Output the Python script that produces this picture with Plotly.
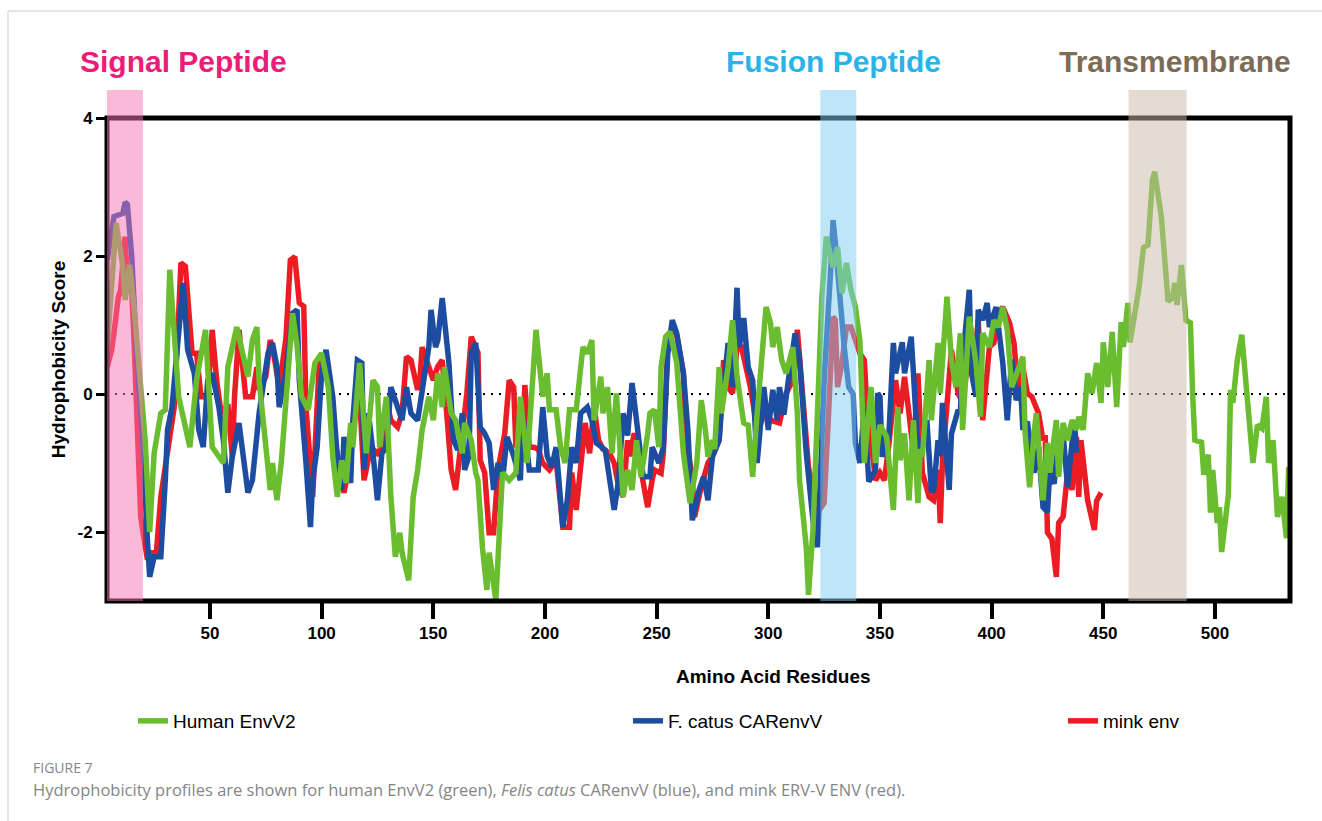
import plotly.graph_objects as go

# ---------------- data ----------------
human_x = [4, 8, 11, 12, 14, 16, 19, 21, 23, 25, 28, 30, 32, 36, 41, 44, 48, 51, 56, 58, 62, 67, 69, 71, 72, 77, 78, 80, 82, 87,
           89, 91, 94, 97, 100, 103, 105, 107, 109, 111, 113, 114, 117, 120, 123, 125, 126, 129, 131, 133, 135, 136, 139, 141,
           143, 145, 148, 150, 152, 154, 155, 158, 160, 163, 164, 167, 169, 170, 172, 174, 175, 178, 181, 184, 187, 189, 192,
           196, 199, 201, 202, 205, 207, 209, 211, 214, 217, 219, 221, 222, 225, 226, 228, 230, 232, 235, 237, 239, 241, 243,
           246, 247, 249, 251, 252, 254, 256, 259, 262, 264, 265, 268, 270, 272, 273, 275, 276, 278, 279, 282, 284, 286, 289,
           291, 293, 295, 299, 301, 302, 304, 306, 308, 311, 313, 314, 317, 318, 320, 322, 324, 326, 329, 331, 333, 335, 337,
           339, 341, 343, 346, 348, 350, 353, 356, 358, 359, 361, 363, 365, 367, 368, 369, 372, 373, 376, 377, 380, 382, 384,
           386, 387, 390, 393, 395, 396, 399, 401, 403, 405, 407, 409, 412, 414, 415, 417, 419, 420, 423, 425, 426, 429, 430,
           432, 434, 436, 438, 439, 441, 442, 443, 445, 447, 449, 450, 452, 454, 456, 458, 459, 461, 462, 465, 466, 468, 470,
           472, 473, 476, 477, 479, 481, 482, 483, 485, 487, 489, 490, 491, 494, 495, 497, 498, 499, 501, 502, 503, 506, 507,
           508, 510, 512, 514, 516, 517, 519, 521, 523, 524, 526, 528, 530, 532, 533]
human_y = [0.68, 2.48, 1.84, 1.36, 1.87, 1.26, 0.10, -0.67, -2.00, -0.86, -0.28, -0.23, 1.80, -0.04, -0.77, 0.20, 0.93, -0.77,
           -1.00, 0.39, 0.97, 0.25, 0.78, 0.97, 0.20, -1.39, -1.00, -1.54, -0.97, 1.17,
           0.70, -0.04, -0.23, 0.45, 0.59, 0.10, -0.91, -1.49, -0.96, -1.29, -0.42, -0.77, 0.45, -0.86, 0.20, 0.10, -0.77,
           -0.04, -1.49, -2.36, -2.01, -2.30, -2.70, -1.49,
           -1.10, -0.52, -0.04, -0.38, 0.30, -0.19, 0.39, -0.28, -0.38, -0.86, -0.42, -0.67, -1.14, -1.25, -2.22, -2.84,
           -2.30, -2.99, -1.14, -1.25, -1.14, -0.04, -1.00,
           0.93, -0.04, 0.30, -0.23, -0.23, -0.77, -1.00, -0.23, -0.23, 0.68, 0.59, 0.78, -0.38, 0.25, -0.28, 0.10, -0.86,
           0.01, -1.49, -1.10, -1.39, -0.67, -1.20,
           -0.57, -0.28, -0.23, -0.77, 0.39, 0.83, 0.90, 0.45, -0.86, -1.43, -1.58, -1.00, -0.09, -0.57, -0.91, -0.67, -0.80,
           0.39, -0.28, 0.39, 1.07, 0.25, -0.42,
           -0.45, -1.20, -0.28, 1.26, 1.03, 0.68, 0.97, 0.49, 0.30, 0.68, -0.28, -1.25, -2.22, -2.91, -1.97, -0.28, 1.41,
           2.28, 1.84, 2.13, 1.46, 1.90, 1.51,
           1.26, 0.78, -1.00, 0.10, -1.00, -0.45, -0.62, -1.68, -0.19, -0.96, -0.57, -1.54, -0.38, -1.58, -0.80, -0.91, 0.49,
           -0.38, 0.74, 0.01, 1.41, 0.49, 0.10,
           0.88, -0.52, 1.12, 0.45, -0.33, 0.88, 0.68, 1.07, 0.97, 1.26, 0.93, 0.10, 0.39, 0.54, -0.57, -1.35, -0.57, -0.28,
           -1.54, -0.71, -1.14, -0.38, -1.20,
           -0.42, -0.67, -0.38, -0.52, -0.33, -0.52, -0.10, 0.30, 0.01, 0.45, -0.13, 0.75, 0.10, 0.90, -0.19, 1.04, 0.68,
           1.32, 0.75, 1.32, 1.54, 2.12, 2.16, 3.10,
           3.22, 2.57, 2.16, 1.34, 1.40, 1.61, 1.29, 1.87, 1.07, 1.03, 0.01, -0.67, -0.70, -1.17, -0.88, -1.72, -1.10,
           -1.87, -1.64, -2.29, -1.46, 0.06, -0.13,
           0.49, 0.86, 0.06, -0.84, -1.00, -0.45, -0.50, -0.04, -1.00, -0.67, -1.78, -1.49, -2.09, -1.06, -0.91]

cat_x = [4, 7, 11, 12, 13, 15, 17, 20, 22, 23, 25, 28, 30, 31, 33, 36, 38, 40, 43, 45, 47, 49, 51, 54, 56, 58, 60, 63, 67, 69,
         72, 76, 78, 80, 81, 84, 87, 89, 90, 93, 95, 96, 98, 100, 102, 105, 107, 109, 110, 113, 114, 116, 118, 119, 121, 123,
         125, 127, 129, 131, 134, 136, 138, 140, 143, 145, 148, 149, 151, 152, 154, 157, 159, 161, 163, 164, 166, 167, 169,
         171, 173, 175, 177, 179, 181, 183, 186, 189, 190, 193, 197, 199, 201, 203, 205, 208, 210, 212, 214, 216, 218, 219,
         221, 223, 227, 231, 233, 235, 237, 239, 241, 244, 247, 248, 251, 253, 255, 257, 259, 262, 264, 265, 266, 269, 271,
         273, 275, 278, 279, 282, 284, 286, 287, 289, 291, 293, 295, 298, 300, 302, 304, 305, 307, 309, 312, 314, 317, 320,
         322, 323, 325, 328, 329, 330, 332, 334, 336, 338, 339, 341, 343, 345, 348, 349, 350, 351, 354, 356, 357, 360, 361,
         364, 365, 367, 369, 371, 373, 374, 376, 377, 378, 379, 381, 382, 385, 386, 387, 390, 391, 393, 394, 396, 398, 399,
         402, 405, 407, 409, 411, 413, 414, 416, 419, 421, 423, 425, 426, 428, 430, 432, 434, 437, 438]
cat_y = [1.94, 2.57, 2.62, 2.78, 2.75, 1.99, 0.68, -0.77, -2.12, -2.65, -2.36, -2.36, -1.25, -0.52, -0.19, 0.93, 1.61, 0.64,
         0.30, -0.52, -0.77, 0.20, 0.30, -0.19, -0.67, -1.43, -0.91, -0.42, -1.43, -1.25,
         -0.28, 0.59, 0.74, 0.39, -0.19, 0.30, 1.17, 1.22, 0.20, -1.00, -1.93, -1.25, -0.77, 0.30, 0.64, -0.04, -0.91, -1.39,
         -0.62, -1.29, -0.38, 0.49, 0.45, -1.10, -0.28, -0.86,
         -1.54, -0.86, -0.77, 0.10, -0.19, -0.38, 0.10, -0.28, -0.38, 0.01, 0.68, 1.22, 0.68, 0.78, 1.39, 0.45, -0.67, -0.81,
         -0.28, -1.10, -0.90, 0.59, 0.74,
         -0.48, -0.57, -0.71, -1.39, -1.00, -1.25, -0.62, -0.90, -1.25, -0.28, -1.10, -1.10, -0.19, -0.90, -1.06, -0.77,
         -1.93, -1.54, -0.77, -1.00, -0.28, -0.23, -0.19,
         -0.38, -0.71, -0.81, -1.68, -1.25, -0.28, -0.60, 0.16, -0.38, -1.20, -1.20, -0.77, -1.00, -0.77, 0.59, 1.07, 0.88,
         0.30, -0.52, -1.25, -1.83, -1.39, -1.20,
         -1.54, -0.91, -0.67, -0.23, 0.74, 0.10, 1.54, 0.68, 1.10, 0.39, 0.20, -1.00, 0.10, -0.52, 0.06, -0.38, 0.10, -0.30,
         0.20, 0.88, 0.49, -0.86, -1.83,
         -2.22, -1.49, 0.20, 1.84, 2.52, 2.20, 1.36, 0.68, 0.10, 0.00, -0.71, -1.00, -0.19, -1.27, -1.10, 0.01, -0.04,
         -0.91, -0.60, 0.74, 0.30, 0.75, 0.30,
         0.83, 0.30, -0.86, -0.70, -0.38, -1.39, -1.42, -0.67, -0.90, -0.13, -0.64, -1.39, -0.58, -0.23, -0.28, 0.49, 1.51,
         0.30, -0.04, 1.22, 1.07, 1.32, 0.97,
         1.26, 0.45, -0.38, 0.50, -0.09, 0.10, -0.52, -0.40, -1.14, -0.77, -1.64, -1.71, -1.14, -1.30, -0.57, -0.57, -1.35,
         -0.38, -0.85]

mink_x = [4, 6, 7, 9, 10, 12, 13, 15, 16, 19, 20, 22, 24, 26, 28, 31, 33, 34, 36, 37, 39, 41, 42, 44, 46, 49, 51, 53, 55, 58,
          60, 61, 63, 66, 69, 71, 72, 75, 77, 78, 81, 84, 86, 88, 90, 92, 93, 96, 97, 99, 101, 103, 105, 107, 110, 112, 113,
          116, 117, 119, 122, 125, 127, 129, 131, 134, 136, 138, 140, 143, 144, 145, 148, 150, 152, 154, 156, 158, 160, 161,
          163, 165, 167, 170, 171, 173, 175, 177, 179, 181, 182, 184, 186, 187, 190, 191, 193, 195, 197, 199, 202, 205, 208,
          211, 212, 214, 216, 218, 220, 222, 224, 226, 229, 231, 233, 235, 237, 238, 240, 243, 246, 248, 249, 252, 253, 255,
          257, 259, 262, 263, 266, 267, 270, 273, 275, 278, 280, 282, 284, 286, 288, 290, 292, 294, 296, 299, 301, 303, 305,
          308, 311, 313, 314, 318, 322, 325, 327, 329, 330, 331, 333, 335, 337, 339, 341, 343, 344, 346, 348, 350, 352, 354,
          357, 359, 361, 363, 365, 367, 369, 372, 374, 376, 377, 378, 381, 382, 385, 387, 389, 392, 394, 396, 399, 401, 403,
          405, 408, 410, 412, 414, 416, 418, 421, 423, 424, 425, 427, 429, 430, 432, 434, 436, 438, 439, 440, 441, 443, 446,
          447, 449]
mink_y = [0.39, 0.64, 0.88, 1.41, 1.50, 2.28, 1.65, 1.50, 0.78, -1.78, -2.00, -2.40, -2.30, -2.30, -1.49, -0.81, -0.42, -0.19,
          1.17, 1.90, 1.85, 0.88, 0.59, 0.59, -0.04, -0.04, 0.93, 0.20, -0.28, -0.15,
          -0.91, -0.04, 0.93, -0.04, -0.04, 0.39, 0.06, 0.25, 0.78, 0.68, 0.10, 0.80, 1.94, 1.99, 1.32, 1.27, -0.19, -1.49,
          -0.77, 0.49, 0.54, 0.20, -0.50, -0.91, -1.43, -1.10, -0.67,
          0.10, -0.04, -1.25, -0.77, -0.86, -0.77, -0.10, -0.38, -0.48, -0.28, 0.54, 0.49, 0.06, 0.20, 0.68, 0.40, 0.20,
          0.40, 0.49, -0.28, -1.10, -1.39, -1.10,
          -0.52, 0.00, 0.83, 0.60, -0.96, -1.14, -2.01, -2.01, -1.10, -0.77, -0.57, 0.20, 0.10, -0.77, -0.70, 0.13, -0.77,
          -0.77, -0.80, -1.00, -1.10, -0.96, -1.93,
          -1.93, -1.14, -1.68, -1.06, -0.42, -0.86, -0.19, -0.67, -0.80, -0.86, -1.00, -1.35, -1.49, -0.67, -0.90, -0.57,
          -1.14, -1.64, -1.25, -1.10, -1.15, -0.86, 0.74,
          0.97, 0.85, 0.30, -0.57, -1.25, -1.78, -1.34, -1.00, -0.90, -0.67, 0.49, 0.10, 0.01, 0.68, 0.68, 0.39, 0.10, -0.30,
          -0.48, -0.20, -0.38, -0.40, -0.42,
          0.01, 0.20, 0.93, 0.50, -1.06, -1.72, -1.58, -0.28, 1.12, 1.07, 0.10, 0.45, 0.97, 0.97, 0.78, 0.59, 0.49, -0.09,
          -0.67, -1.25, -1.14, -1.25, -0.73,
          0.20, -0.28, 0.25, -0.28, -0.86, 0.30, -1.14, -1.49, -1.54, -1.10, -1.87, -0.96, 0.30, 0.64, 0.01, -0.13, 0.39,
          0.39, 1.07, -0.38, 0.68, 0.74, 1.17,
          1.26, 1.03, 0.74, 0.00, 0.39, 0.01, -0.04, -0.28, -0.67, -0.60, -2.01, -2.10, -2.65, -1.87, -1.78, -1.14, -1.39,
          -0.62, -1.49, -0.67, -0.96, -1.54, -1.97,
          -1.55, -1.43]

series_names = ["Human EnvV2", "F. catus CARenvV", "mink env"]
series_colors = ["#6ABD2E", "#1C4DA1", "#EC1C24"]

region_names = ["Signal Peptide", "Fusion Peptide", "Transmembrane"]
region_start = [3.5, 323.3, 461.3]
region_end = [20.0, 339.4, 487.3]
region_fill = ["#F774B4", "#7FCDF2", "#C9B9A5"]
region_label_color = ["#EC1C78", "#2BB3E8", "#7C6B55"]
region_label_center = [38.0, 329.4, 482.0]   # residue at which each label is centred

x_range = [3.9, 533.6]
y_range = [-3, 4]
y_ticks = [-2, 0, 2, 4]
y_ticktext = ["-2", "0", "2", "4"]
x_ticks = [50, 100, 150, 200, 250, 300, 350, 400, 450, 500]

x_title = "Amino Acid Residues"
y_title = "Hydrophobicity Score"

# ---------------- layout geometry ----------------
W, H = 1322, 821
ML, MR, MT, MB = 107, 32, 118, 220
PW, PH = W - ML - MR, H - MT - MB


def px2paper_x(px):
    return (px - ML) / PW


def px2paper_y(py):
    return (H - MB - py) / PH


FONT = "Liberation Sans, Arial, Helvetica, sans-serif"

fig = go.Figure()

# draw order: mink, cat, human (human on top)
order = [2, 1, 0]
xs = [human_x, cat_x, mink_x]
ys = [human_y, cat_y, mink_y]
legend_ids = ["legend", "legend2", "legend3"]
for i in order:
    fig.add_trace(go.Scatter(
        x=xs[i], y=ys[i], mode="lines", name=series_names[i],
        line=dict(color=series_colors[i], width=5.5),
        legend=legend_ids[i], showlegend=True,
    ))

# zero dotted line
fig.add_shape(type="line", xref="x", yref="y", x0=x_range[0], x1=x_range[1], y0=0, y1=0,
              line=dict(color="black", width=2, dash="2px,6px"), layer="below")

# plot frame (centred on the plot-area edge, above the traces)
fig.add_shape(type="rect", xref="paper", yref="paper", x0=0, x1=1, y0=0, y1=1,
              line=dict(color="black", width=5), fillcolor="rgba(0,0,0,0)", layer="above")

# shaded regions (extend above plot)
top_paper = px2paper_y(90)
for i in range(3):
    fig.add_shape(type="rect", xref="x", yref="paper",
                  x0=region_start[i], x1=region_end[i], y0=0, y1=top_paper,
                  fillcolor=region_fill[i], opacity=0.5, line=dict(width=0), layer="above")
    fig.add_annotation(x=region_label_center[i], xref="x", y=px2paper_y(62), yref="paper",
                       text="<b>%s</b>" % region_names[i], showarrow=False,
                       font=dict(family=FONT, size=30, color=region_label_color[i]),
                       xanchor="center", yanchor="middle")

# x-axis title (sits right of the plot centre in the original)
fig.add_annotation(x=px2paper_x(773), y=px2paper_y(676), xref="paper", yref="paper",
                   text="<b>%s</b>" % x_title, showarrow=False, xanchor="center", yanchor="middle",
                   font=dict(family=FONT, size=19, color="black"))

# outer light border
fig.add_shape(type="rect", xref="paper", yref="paper",
              x0=px2paper_x(8), x1=px2paper_x(1340), y0=px2paper_y(840), y1=px2paper_y(11),
              line=dict(color="#CCCCCC", width=1), fillcolor="rgba(0,0,0,0)", layer="below")

# caption
CAP_FONT = "Open Sans, Noto Sans, sans-serif"
fig.add_annotation(x=px2paper_x(31), y=px2paper_y(767), xref="paper", yref="paper",
                   text="FIGURE 7", showarrow=False, xanchor="left", yanchor="middle",
                   font=dict(family=CAP_FONT, size=14, color="#858585"))
fig.add_annotation(x=px2paper_x(31), y=px2paper_y(789), xref="paper", yref="paper",
                   text="Hydrophobicity profiles are shown for human EnvV2 (green), <i>Felis catus</i> CARenvV (blue), and mink ERV-V ENV (red).",
                   showarrow=False, xanchor="left", yanchor="middle",
                   font=dict(family=CAP_FONT, size=16.5, color="#858585"))

legend_common = dict(orientation="h", yanchor="middle", xanchor="left", bgcolor="rgba(0,0,0,0)",
                     font=dict(family=FONT, size=19, color="black"), borderwidth=0)
legend_x_px = [133, 628, 1063]
fig.update_layout(
    width=W, height=H,
    margin=dict(l=ML, r=MR, t=MT, b=MB, autoexpand=False),
    paper_bgcolor="white", plot_bgcolor="white",
    xaxis=dict(range=x_range, tickvals=x_ticks, ticks="outside", ticklen=17, tickwidth=4, tickcolor="black",
               showline=False, showgrid=False, zeroline=False,
               tickfont=dict(family=FONT, size=17, color="black", weight="bold")),
    yaxis=dict(range=y_range, tickvals=y_ticks, ticktext=y_ticktext, ticks="outside", ticklen=10, tickwidth=3,
               tickcolor="black", showline=False, showgrid=False, zeroline=False,
               tickfont=dict(family=FONT, size=17, color="black", weight="bold"),
               title=dict(text="<b>%s</b>" % y_title, font=dict(family=FONT, size=19, color="black"), standoff=6)),
    legend=dict(x=px2paper_x(legend_x_px[0]), y=px2paper_y(721), **legend_common),
    legend2=dict(x=px2paper_x(legend_x_px[1]), y=px2paper_y(721), **legend_common),
    legend3=dict(x=px2paper_x(legend_x_px[2]), y=px2paper_y(721), **legend_common),
)

fig.write_html("out.html")
